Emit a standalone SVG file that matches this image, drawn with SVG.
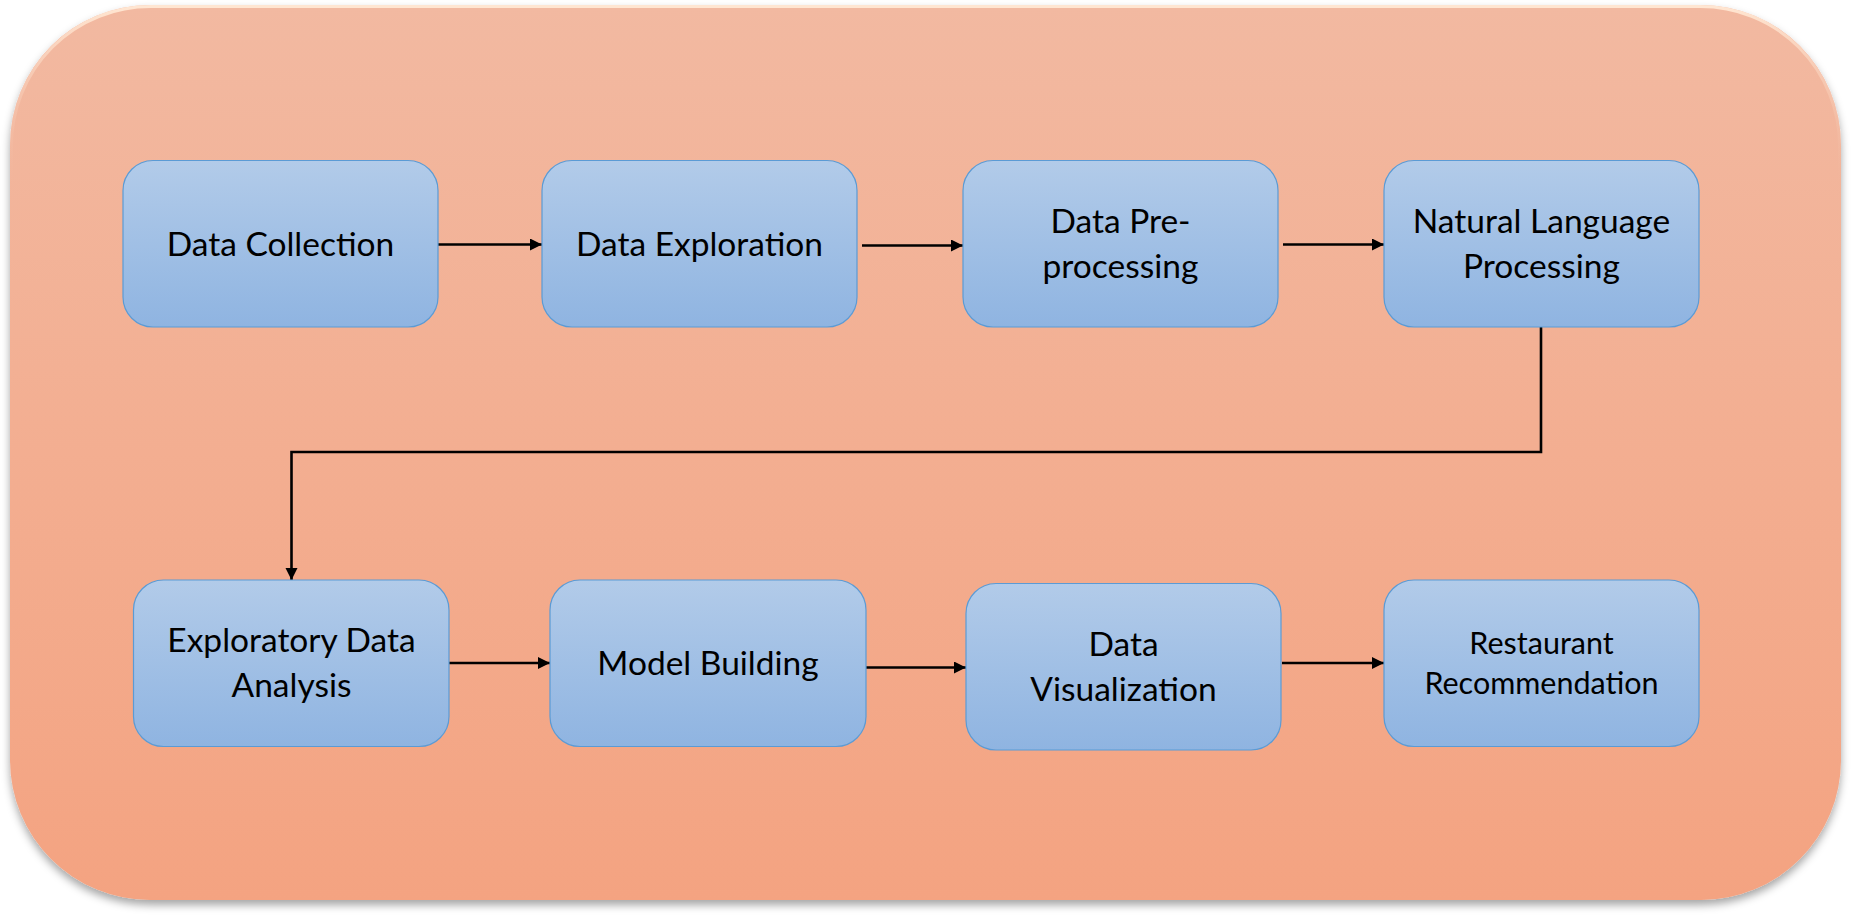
<svg xmlns="http://www.w3.org/2000/svg" width="1852" height="915" viewBox="0 0 1852 915">
<defs>
<linearGradient id="bg" x1="0" y1="0" x2="0" y2="1">
<stop offset="0" stop-color="#F2B9A1"/>
<stop offset="1" stop-color="#F4A381"/>
</linearGradient>
<linearGradient id="edge" x1="0" y1="0" x2="0" y2="1">
<stop offset="0" stop-color="#FFE6D2"/>
<stop offset="0.2" stop-color="#F2B9A1" stop-opacity="0"/>
<stop offset="1" stop-color="#F4A381" stop-opacity="0"/>
</linearGradient>
<linearGradient id="boxg" x1="0" y1="0" x2="0" y2="1">
<stop offset="0" stop-color="#B2CBE9"/>
<stop offset="1" stop-color="#8FB4E1"/>
</linearGradient>
<filter id="shadow" x="-5%" y="-5%" width="110%" height="115%">
<feGaussianBlur in="SourceAlpha" stdDeviation="4"/>
<feOffset dx="0" dy="5" result="b"/>
<feFlood flood-color="#000" flood-opacity="0.35"/>
<feComposite in2="b" operator="in" result="s"/>
<feMerge><feMergeNode in="s"/><feMergeNode in="SourceGraphic"/></feMerge>
</filter>
<marker id="arr" markerUnits="userSpaceOnUse" markerWidth="14" markerHeight="14" refX="12" refY="6" orient="auto">
<path d="M0,0 L12,6 L0,12 Z" fill="#000"/>
</marker>
<style>
.box{fill:url(#boxg);stroke:#5B9BD5;stroke-width:1.2}
.t{font-family:Lato,"Noto Sans",sans-serif;font-size:33.5px;fill:#000;text-anchor:middle}
.ts{font-size:30.5px}
.c{fill:none;stroke:#000;stroke-width:2.6;marker-end:url(#arr)}
</style>
</defs>
<rect width="1852" height="915" fill="#fff"/>
<g id="background">
<rect x="10" y="5" width="1831" height="895" rx="140" ry="140" fill="url(#bg)" filter="url(#shadow)"/>
<rect x="11.5" y="6.5" width="1828" height="892" rx="139" ry="139" fill="none" stroke="url(#edge)" stroke-width="3"/>
</g>
<g id="connectors">
<line class="c" x1="438" y1="244.5" x2="542" y2="244.5"/>
<line class="c" x1="862" y1="245.5" x2="963" y2="245.5"/>
<line class="c" x1="1283" y1="244.5" x2="1384" y2="244.5"/>
<polyline class="c" points="1541,327 1541,452 291.5,452 291.5,580"/>
<line class="c" x1="449" y1="663" x2="550" y2="663"/>
<line class="c" x1="866" y1="667.5" x2="966" y2="667.5"/>
<line class="c" x1="1282" y1="663" x2="1384" y2="663"/>
</g>
<g id="n1"><rect class="box" x="123" y="160.5" width="315" height="166.5" rx="30"/><text class="t" x="280.5" y="256">Data Collection</text></g>
<g id="n2"><rect class="box" x="542" y="160.5" width="315" height="166.5" rx="30"/><text class="t" x="699.5" y="256">Data Exploration</text></g>
<g id="n3"><rect class="box" x="963" y="160.5" width="315" height="166.5" rx="30"/><text class="t" x="1120.5" y="233">Data Pre-</text><text class="t" x="1120.5" y="278">processing</text></g>
<g id="n4"><rect class="box" x="1384" y="160.5" width="315" height="166.5" rx="30"/><text class="t" x="1541.5" y="233">Natural Language</text><text class="t" x="1541.5" y="278">Processing</text></g>
<g id="n5"><rect class="box" x="133.5" y="580" width="315.5" height="166.5" rx="30"/><text class="t" x="291.5" y="652">Exploratory Data</text><text class="t" x="291.5" y="697">Analysis</text></g>
<g id="n6"><rect class="box" x="550" y="580" width="316" height="166.5" rx="30"/><text class="t" x="708" y="674.5">Model Building</text></g>
<g id="n7"><rect class="box" x="966" y="583.5" width="315" height="166.5" rx="30"/><text class="t" x="1123.5" y="656">Data</text><text class="t" x="1123.5" y="701">Visualization</text></g>
<g id="n8"><rect class="box" x="1384" y="580" width="315" height="166.5" rx="30"/><text class="t ts" x="1541.5" y="654">Restaurant</text><text class="t ts" x="1541.5" y="693.5">Recommendation</text></g>
</svg>
